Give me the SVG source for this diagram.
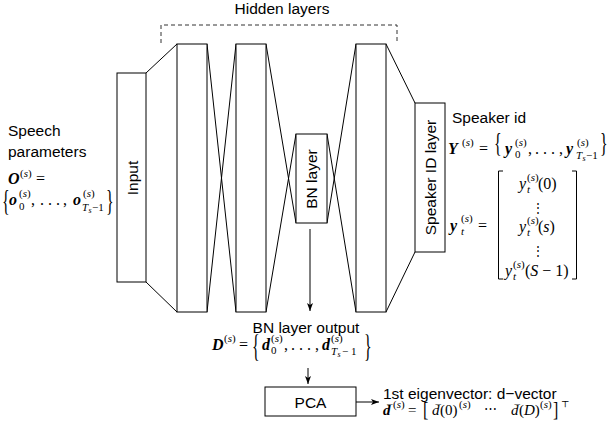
<svg xmlns="http://www.w3.org/2000/svg" width="609" height="427" viewBox="0 0 609 427">
<style>
.box{fill:#fff;stroke:#000;stroke-width:1}
.ln{stroke:#000;stroke-width:1;fill:none}
.t{font-family:"Liberation Sans",Arial,sans-serif;font-size:15.5px;fill:#000}
.m{font-family:"Liberation Serif","Times New Roman",serif;font-size:16px;fill:#000}
.s{font-size:11px}
.ss{font-size:8px}
.bi{font-weight:bold;font-style:italic}
.it{font-style:italic}
.dv{font-family:"DejaVu Serif",serif;fill:#000}
</style>
<defs>
<marker id="ah" viewBox="0 0 8 6" refX="8" refY="3" markerWidth="8" markerHeight="6" markerUnits="userSpaceOnUse" orient="auto">
<path d="M0,0 L8,3 L0,6 L2,3 z" fill="#000"/>
</marker>
</defs>
<rect width="609" height="427" fill="#fff"/>

<g id="connectors">
<path class="ln" d="M146,73 L177,44 M146,282 L177,312"/>
<path class="ln" d="M207,44 L236,312 M207,312 L236,44"/>
<path class="ln" d="M266,44 L296,223 M266,312 L296,134"/>
<path class="ln" d="M327,134 L356,312 M327,223 L356,44"/>
<path class="ln" d="M386,44 L415,103 M386,312 L415,252"/>
<path class="ln" d="M310,229 L310,311" marker-end="url(#ah)"/>
<path class="ln" d="M308,368 L308,384" marker-end="url(#ah)"/>
<path class="ln" d="M356,402 L379,402" marker-end="url(#ah)"/>
<path d="M161,43 L161,25 L397,25 L397,43" fill="none" stroke="#333" stroke-width="1" stroke-dasharray="4,3"/>
</g>

<g id="hidden-title"><text class="t" x="282" y="14" text-anchor="middle">Hidden layers</text></g>

<g id="input">
<rect class="box" x="117" y="73" width="29" height="209"/>
<text class="t" transform="translate(137.5,178) rotate(-90)" text-anchor="middle">Input</text>
</g>
<g id="hidden1"><rect class="box" x="177" y="44" width="30" height="268"/></g>
<g id="hidden2"><rect class="box" x="236" y="44" width="30" height="268"/></g>
<g id="bn">
<rect class="box" x="296" y="134" width="31" height="89"/>
<text class="t" transform="translate(316.5,179) rotate(-90)" text-anchor="middle">BN layer</text>
</g>
<g id="hidden3"><rect class="box" x="356" y="44" width="30" height="268"/></g>
<g id="speaker-id-layer">
<rect class="box" x="415" y="103" width="30" height="149"/>
<text class="t" transform="translate(435.5,177.5) rotate(-90)" text-anchor="middle">Speaker ID layer</text>
</g>
<g id="pca">
<rect class="box" x="265" y="387" width="91" height="29"/>
<text class="t" x="310.5" y="407.5" text-anchor="middle">PCA</text>
</g>

<g id="speech-params">
<text class="t" x="8" y="136">Speech</text>
<text class="t" x="8" y="157">parameters</text>
<text class="m"><tspan class="bi" x="8" y="184">O</tspan><tspan class="s" x="20" y="177">(<tspan class="it">s</tspan>)</tspan><tspan x="36" y="184">=</tspan></text>
<text class="m" transform="translate(2,209.7) scale(1,1.8)">{</text>
<text class="m"><tspan class="bi" x="9" y="205">o</tspan><tspan class="s" x="19" y="197">(<tspan class="it">s</tspan>)</tspan><tspan class="s" x="19" y="210">0</tspan><tspan x="31" y="205">,</tspan><tspan x="40" y="205">. . .</tspan><tspan x="63" y="205">,</tspan><tspan class="bi" x="73" y="205">o</tspan><tspan class="s" x="83" y="197">(<tspan class="it">s</tspan>)</tspan><tspan class="s it" x="82" y="211">T</tspan><tspan class="ss it" x="88.5" y="213">s</tspan><tspan class="s" x="92" y="211">−1</tspan></text>
<text class="m" transform="translate(106,209.7) scale(1,1.8)">}</text>
</g>

<g id="speaker-id">
<text class="t" x="452" y="123">Speaker id</text>
<text class="m"><tspan class="bi" x="448" y="154">Y</tspan><tspan class="s" x="462" y="146">(<tspan class="it">s</tspan>)</tspan><tspan x="479" y="154">=</tspan></text>
<text class="m" transform="translate(494,152) scale(1,1.7)">{</text>
<text class="m"><tspan class="bi" x="505" y="154">y</tspan><tspan class="s" x="515" y="146">(<tspan class="it">s</tspan>)</tspan><tspan class="s" x="515" y="158">0</tspan><tspan x="528" y="154">,</tspan><tspan x="535" y="154">. . .</tspan><tspan x="559" y="154">,</tspan><tspan class="bi" x="566" y="154">y</tspan><tspan class="s" x="577" y="146">(<tspan class="it">s</tspan>)</tspan><tspan class="s it" x="576" y="159">T</tspan><tspan class="ss it" x="582.5" y="161">s</tspan><tspan class="s" x="586" y="159">−1</tspan></text>
<text class="m" transform="translate(600,152) scale(1,1.7)">}</text>

<text class="m"><tspan class="bi" x="450" y="231">y</tspan><tspan class="s" x="461" y="222">(<tspan class="it">s</tspan>)</tspan><tspan class="s it" x="461" y="235">t</tspan><tspan x="478" y="231">=</tspan></text>
<path class="ln" d="M503,171 H498.5 V279 H503 M572,171 H576.5 V279 H572"/>
<text class="m"><tspan class="it" x="519" y="189">y</tspan><tspan class="s" x="527" y="181">(<tspan class="it">s</tspan>)</tspan><tspan class="s it" x="527" y="193">t</tspan><tspan x="538" y="189">(0)</tspan></text>
<text class="dv" x="538" y="212" font-size="12" text-anchor="middle">⋮</text>
<text class="m"><tspan class="it" x="519" y="232">y</tspan><tspan class="s" x="527" y="224">(<tspan class="it">s</tspan>)</tspan><tspan class="s it" x="527" y="236">t</tspan><tspan x="538" y="232">(<tspan class="it">s</tspan>)</tspan></text>
<text class="dv" x="538" y="255" font-size="12" text-anchor="middle">⋮</text>
<text class="m"><tspan class="it" x="505" y="276">y</tspan><tspan class="s" x="513" y="268">(<tspan class="it">s</tspan>)</tspan><tspan class="s it" x="513" y="280">t</tspan><tspan x="525" y="276">(<tspan class="it">S</tspan> − 1)</tspan></text>
</g>

<g id="bn-output">
<text class="t" x="306" y="333" text-anchor="middle">BN layer output</text>
<text class="m"><tspan class="bi" x="212" y="350">D</tspan><tspan class="s" x="224" y="342">(<tspan class="it">s</tspan>)</tspan><tspan x="239" y="350">=</tspan></text>
<text class="m" transform="translate(252,357) scale(1,2)">{</text>
<text class="m"><tspan class="bi" x="262" y="350">d</tspan><tspan class="s" x="271" y="342">(<tspan class="it">s</tspan>)</tspan><tspan class="s" x="271" y="354">0</tspan><tspan x="284" y="350">,</tspan><tspan x="291" y="350">. . .</tspan><tspan x="315" y="350">,</tspan><tspan class="bi" x="322" y="350">d</tspan><tspan class="s" x="331" y="342">(<tspan class="it">s</tspan>)</tspan><tspan class="s it" x="331" y="355">T</tspan><tspan class="ss it" x="337.5" y="357">s</tspan><tspan class="s" x="342" y="355">− 1</tspan></text>
<text class="m" transform="translate(364,357) scale(1,2)">}</text>
</g>

<g id="dvector">
<text class="t" x="383" y="398.5">1st eigenvector: d−vector</text>
<text class="m" style="font-size:15px"><tspan class="bi" x="383" y="415">d</tspan><tspan class="s" x="387" y="411.5">¯</tspan><tspan class="s" x="393" y="408">(<tspan class="it">s</tspan>)</tspan><tspan x="408" y="415">=</tspan><tspan class="it" x="432" y="415">d</tspan><tspan class="s" x="435.5" y="411.5">¯</tspan><tspan x="440" y="415">(0)</tspan><tspan class="s" x="459" y="408">(<tspan class="it">s</tspan>)</tspan><tspan class="it" x="511" y="415">d</tspan><tspan class="s" x="514.5" y="411.5">¯</tspan><tspan x="519" y="415">(<tspan class="it">D</tspan>)</tspan><tspan class="s" x="540" y="408">(<tspan class="it">s</tspan>)</tspan></text>
<text class="m" transform="translate(423,416) scale(1,1.25)">[</text>
<text class="dv" x="484" y="413" font-size="13">⋯</text>
<text class="m" transform="translate(553,416) scale(1,1.25)">]</text>
<text class="dv" x="561" y="407" font-size="9">⊤</text>
</g>
</svg>
